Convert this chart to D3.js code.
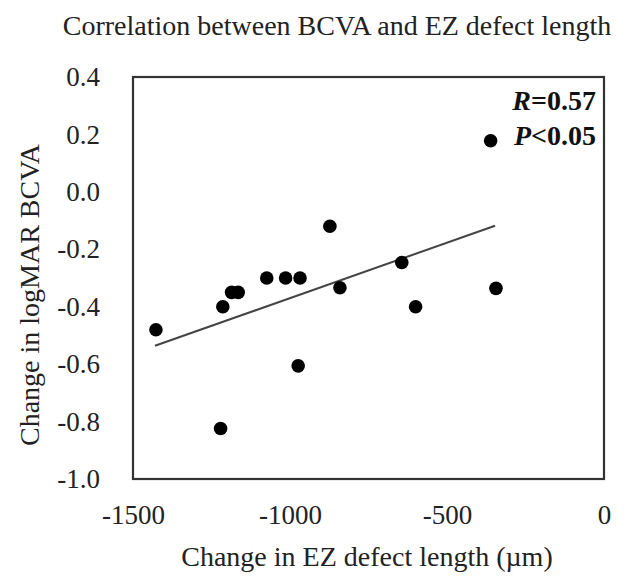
<!DOCTYPE html>
<html><head><meta charset="utf-8">
<script src="https://cdn.jsdelivr.net/npm/d3@7"></script>
<style>html,body{margin:0;padding:0;background:#fff;}</style>
</head><body>
<svg id="chart" width="630" height="576"></svg>
<script>
const ezChange = [-1427, -1221, -1214, -1186, -1165, -1074, -1014, -974, -968, -873, -841, -644, -600, -361, -344];
const bcvaChange = [-0.48, -0.824, -0.40, -0.35, -0.35, -0.30, -0.30, -0.606, -0.30, -0.12, -0.334, -0.246, -0.40, 0.178, -0.336];
const trendX = [-1430, -347];
const trendY = [-0.536, -0.118];
const xTicks = [-1500, -1000, -500, 0];
const yTicks = [0.4, 0.2, 0.0, -0.2, -0.4, -0.6, -0.8, -1.0];
const titleText = "Correlation between BCVA and EZ defect length";
const xTitle = "Change in EZ defect length (\u00b5m)";
const yTitle = "Change in logMAR BCVA";

const svg = d3.select("#chart");
const font = "'Liberation Serif','Times New Roman',serif";
const m = {l:133, t:77, r:604, b:479};
const x = d3.scaleLinear().domain([-1500, 0]).range([m.l, m.r]);
const y = d3.scaleLinear().domain([-1.0, 0.4]).range([m.b, m.t]);
const hy = s => s.replace(/\u2212/g, "-");
const f1 = d3.format(".1f");

svg.append("text").attr("x", 337).attr("y", 35).attr("text-anchor","middle")
  .attr("font-family", font).attr("font-size", 28).attr("fill","#222").text(titleText);

const xa = svg.append("g").attr("transform", `translate(0,${m.b})`)
  .call(d3.axisBottom(x).tickValues(xTicks).tickSize(0).tickPadding(26).tickFormat(d => hy(String(d))));
xa.select(".domain").remove();
xa.selectAll("text").attr("font-family", font).attr("font-size", 27).attr("fill","#222");

const ya = svg.append("g").attr("transform", `translate(${m.l},0)`)
  .call(d3.axisLeft(y).tickValues(yTicks).tickSize(0).tickPadding(33).tickFormat(d => hy(f1(d))));
ya.select(".domain").remove();
ya.selectAll("text").attr("font-family", font).attr("font-size", 27).attr("fill","#222");

svg.append("text").attr("x", 367).attr("y", 566).attr("text-anchor","middle")
  .attr("font-family", font).attr("font-size", 28).attr("fill","#222").text(xTitle);
svg.append("text").attr("transform", "translate(39,295) rotate(-90)").attr("text-anchor","middle")
  .attr("font-family", font).attr("font-size", 28).attr("fill","#222").text(yTitle);

svg.append("rect").attr("x", m.l).attr("y", m.t).attr("width", m.r-m.l).attr("height", m.b-m.t)
  .attr("fill","none").attr("stroke","#333").attr("stroke-width",2.2);

svg.append("line").attr("x1", x(trendX[0])).attr("y1", y(trendY[0]))
  .attr("x2", x(trendX[1])).attr("y2", y(trendY[1]))
  .attr("stroke","#444").attr("stroke-width",2);

svg.append("g").selectAll("circle").data(ezChange).join("circle")
  .attr("cx", d => x(d)).attr("cy", (d,i) => y(bcvaChange[i])).attr("r", 6.8).attr("fill","#000");

const st = svg.append("g").attr("font-family", font).attr("font-size", 28).attr("font-weight","bold").attr("fill","#111").attr("text-anchor","end");
const t1 = st.append("text").attr("x", 596).attr("y", 110);
t1.append("tspan").attr("font-style","italic").text("R");
t1.append("tspan").text("=0.57");
const t2 = st.append("text").attr("x", 596).attr("y", 145);
t2.append("tspan").attr("font-style","italic").text("P");
t2.append("tspan").text("<0.05");
</script>
</body></html>
